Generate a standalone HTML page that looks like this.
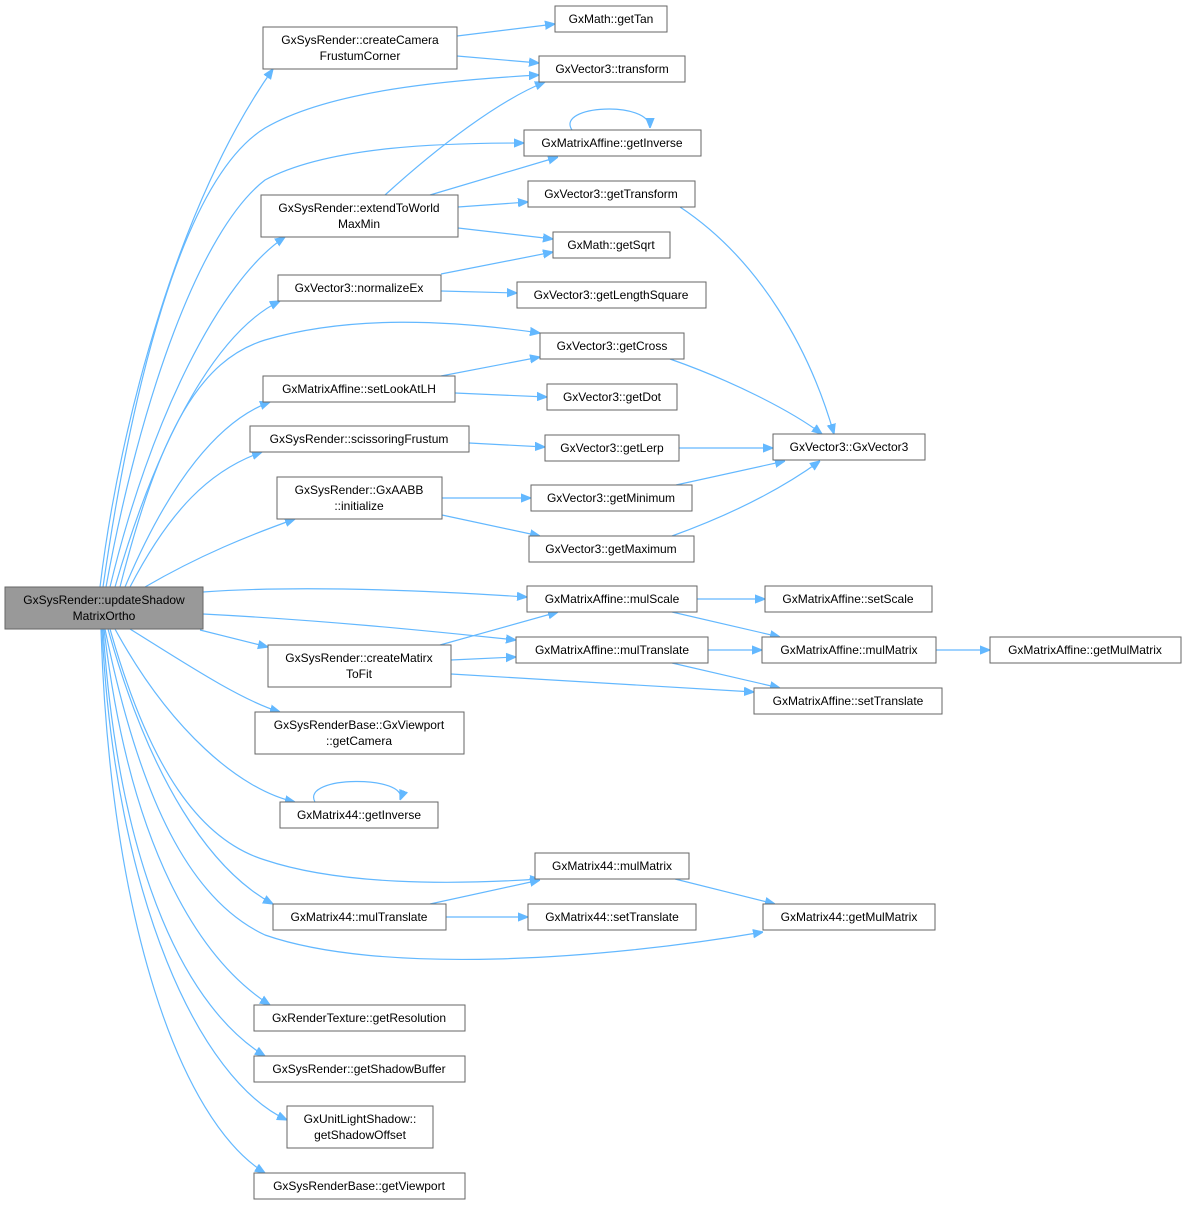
<!DOCTYPE html>
<html><head><meta charset="utf-8"><style>
html,body{margin:0;padding:0;background:#fff;}
svg{display:block;}
text{font-family:"Liberation Sans",Arial,sans-serif;font-size:12px;fill:#000;}
rect{fill:#fff;stroke:#666;stroke-width:1;}
path{fill:none;stroke:#63b8ff;stroke-width:1.2;}
</style></head><body>
<svg width="1186" height="1205" viewBox="0 0 1186 1205" xmlns="http://www.w3.org/2000/svg">
<defs><marker id="a" viewBox="0 0 10 10" refX="10" refY="5" markerWidth="10" markerHeight="10" markerUnits="userSpaceOnUse" orient="auto"><path d="M0,1 L10,5 L0,9 z" style="fill:#63b8ff;stroke:#63b8ff"/></marker></defs>
<g marker-end="url(#a)">
<path d="M100,587 C120,420 180,200 273,69"/>
<path d="M103,587 C130,400 180,180 265,128 C330,90 450,80 539,75"/>
<path d="M106,587 C140,400 200,230 265,180 C330,145 450,143 524,143"/>
<path d="M110,587 C150,420 220,280 285,237"/>
<path d="M115,587 C160,430 220,330 280,301"/>
<path d="M120,587 C160,430 200,360 265,340 C350,315 450,320 540,333"/>
<path d="M125,587 C170,480 220,420 270,402"/>
<path d="M130,587 C170,510 210,470 262,452"/>
<path d="M145,587 C200,555 250,535 295,519"/>
<path d="M203,592 C300,585 420,590 527,597"/>
<path d="M203,614 C320,620 420,630 516,640"/>
<path d="M200,630 L268,647"/>
<path d="M130,629 C180,660 240,700 280,712"/>
<path d="M115,629 C170,730 240,790 295,802"/>
<path d="M110,629 C150,770 200,840 265,860 C340,885 450,885 540,879"/>
<path d="M108,629 C150,780 210,870 273,904"/>
<path d="M105,629 C140,800 190,900 265,935 C380,975 600,960 763,932"/>
<path d="M104,629 C130,850 200,960 270,1005"/>
<path d="M103,629 C120,880 190,1010 265,1056"/>
<path d="M102,629 C115,900 200,1080 287,1120"/>
<path d="M101,629 C110,920 180,1120 265,1173"/>
<path d="M457,36 L555,24"/>
<path d="M457,56 L539,63"/>
<path d="M385,195 C440,145 500,100 545,82"/>
<path d="M430,195 L558,157"/>
<path d="M458,207 L528,202"/>
<path d="M458,228 L553,239"/>
<path d="M572,130 C555,105 650,100 650,128"/>
<path d="M441,274 L553,252"/>
<path d="M441,291 L517,293"/>
<path d="M441,376 L540,357"/>
<path d="M455,393 L547,397"/>
<path d="M469,443 L545,447"/>
<path d="M679,448 L773,448"/>
<path d="M670,359 C730,380 790,410 822,434"/>
<path d="M680,207 C760,260 810,350 834,434"/>
<path d="M676,485 L785,461"/>
<path d="M672,536 C730,515 780,490 820,461"/>
<path d="M442,498 L531,498"/>
<path d="M442,515 L540,536"/>
<path d="M697,599 L765,599"/>
<path d="M672,612 L780,637"/>
<path d="M708,650 L762,650"/>
<path d="M672,663 L780,688"/>
<path d="M936,650 L990,650"/>
<path d="M440,645 L558,612"/>
<path d="M451,660 L516,657"/>
<path d="M451,674 L754,692"/>
<path d="M315,802 C300,775 410,775 400,800"/>
<path d="M430,904 L540,880"/>
<path d="M446,917 L528,917"/>
<path d="M675,879 L775,904"/>
</g>
<rect x="5" y="587" width="198" height="42" style="fill:#999"/>
<text x="104" y="604" text-anchor="middle">GxSysRender::updateShadow</text><text x="104" y="620" text-anchor="middle">MatrixOrtho</text>
<rect x="263" y="27" width="194" height="42"/><text x="360" y="44" text-anchor="middle">GxSysRender::createCamera</text><text x="360" y="60" text-anchor="middle">FrustumCorner</text>
<rect x="555" y="6" width="112" height="26"/><text x="611" y="23" text-anchor="middle">GxMath::getTan</text>
<rect x="539" y="56" width="146" height="26"/><text x="612" y="73" text-anchor="middle">GxVector3::transform</text>
<rect x="524" y="130" width="177" height="26"/><text x="612" y="147" text-anchor="middle">GxMatrixAffine::getInverse</text>
<rect x="261" y="195" width="197" height="42"/><text x="359" y="212" text-anchor="middle">GxSysRender::extendToWorld</text><text x="359" y="228" text-anchor="middle">MaxMin</text>
<rect x="528" y="181" width="167" height="26"/><text x="611" y="198" text-anchor="middle">GxVector3::getTransform</text>
<rect x="553" y="232" width="117" height="26"/><text x="611" y="249" text-anchor="middle">GxMath::getSqrt</text>
<rect x="278" y="275" width="163" height="26"/><text x="359" y="292" text-anchor="middle">GxVector3::normalizeEx</text>
<rect x="517" y="282" width="189" height="26"/><text x="611" y="299" text-anchor="middle">GxVector3::getLengthSquare</text>
<rect x="540" y="333" width="144" height="26"/><text x="612" y="350" text-anchor="middle">GxVector3::getCross</text>
<rect x="263" y="376" width="192" height="26"/><text x="359" y="393" text-anchor="middle">GxMatrixAffine::setLookAtLH</text>
<rect x="547" y="384" width="130" height="26"/><text x="612" y="401" text-anchor="middle">GxVector3::getDot</text>
<rect x="250" y="426" width="219" height="26"/><text x="359" y="443" text-anchor="middle">GxSysRender::scissoringFrustum</text>
<rect x="545" y="435" width="134" height="26"/><text x="612" y="452" text-anchor="middle">GxVector3::getLerp</text>
<rect x="773" y="434" width="152" height="26"/><text x="849" y="451" text-anchor="middle">GxVector3::GxVector3</text>
<rect x="277" y="477" width="165" height="42"/><text x="359" y="494" text-anchor="middle">GxSysRender::GxAABB</text><text x="359" y="510" text-anchor="middle">::initialize</text>
<rect x="531" y="485" width="161" height="26"/><text x="611" y="502" text-anchor="middle">GxVector3::getMinimum</text>
<rect x="529" y="536" width="165" height="26"/><text x="611" y="553" text-anchor="middle">GxVector3::getMaximum</text>
<rect x="527" y="586" width="170" height="26"/><text x="612" y="603" text-anchor="middle">GxMatrixAffine::mulScale</text>
<rect x="765" y="586" width="167" height="26"/><text x="848" y="603" text-anchor="middle">GxMatrixAffine::setScale</text>
<rect x="516" y="637" width="192" height="26"/><text x="612" y="654" text-anchor="middle">GxMatrixAffine::mulTranslate</text>
<rect x="762" y="637" width="174" height="26"/><text x="849" y="654" text-anchor="middle">GxMatrixAffine::mulMatrix</text>
<rect x="990" y="637" width="191" height="26"/><text x="1085" y="654" text-anchor="middle">GxMatrixAffine::getMulMatrix</text>
<rect x="268" y="645" width="183" height="42"/><text x="359" y="662" text-anchor="middle">GxSysRender::createMatirx</text><text x="359" y="678" text-anchor="middle">ToFit</text>
<rect x="754" y="688" width="188" height="26"/><text x="848" y="705" text-anchor="middle">GxMatrixAffine::setTranslate</text>
<rect x="255" y="712" width="209" height="42"/><text x="359" y="729" text-anchor="middle">GxSysRenderBase::GxViewport</text><text x="359" y="745" text-anchor="middle">::getCamera</text>
<rect x="280" y="802" width="158" height="26"/><text x="359" y="819" text-anchor="middle">GxMatrix44::getInverse</text>
<rect x="535" y="853" width="154" height="26"/><text x="612" y="870" text-anchor="middle">GxMatrix44::mulMatrix</text>
<rect x="273" y="904" width="173" height="26"/><text x="359" y="921" text-anchor="middle">GxMatrix44::mulTranslate</text>
<rect x="528" y="904" width="168" height="26"/><text x="612" y="921" text-anchor="middle">GxMatrix44::setTranslate</text>
<rect x="763" y="904" width="172" height="26"/><text x="849" y="921" text-anchor="middle">GxMatrix44::getMulMatrix</text>
<rect x="254" y="1005" width="211" height="26"/><text x="359" y="1022" text-anchor="middle">GxRenderTexture::getResolution</text>
<rect x="254" y="1056" width="211" height="26"/><text x="359" y="1073" text-anchor="middle">GxSysRender::getShadowBuffer</text>
<rect x="287" y="1106" width="146" height="42"/><text x="360" y="1123" text-anchor="middle">GxUnitLightShadow::</text><text x="360" y="1139" text-anchor="middle">getShadowOffset</text>
<rect x="254" y="1173" width="211" height="26"/><text x="359" y="1190" text-anchor="middle">GxSysRenderBase::getViewport</text>
</svg>
</body></html>
